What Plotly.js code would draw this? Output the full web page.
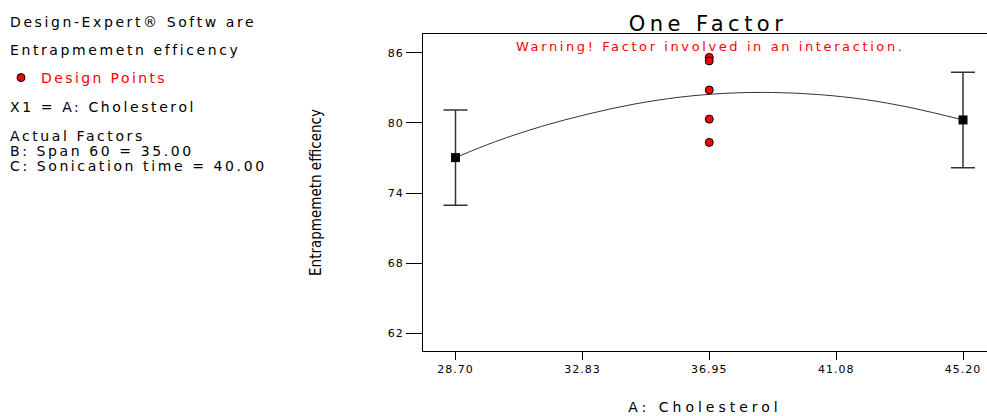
<!DOCTYPE html>
<html>
<head>
<meta charset="utf-8">
<script src="https://cdn.plot.ly/plotly-3.0.1.min.js"></script>
<style>
  html, body { margin: 0; padding: 0; background: #fff; }
  #chart { width: 987px; height: 416px; }
  .annotation-text { letter-spacing: 2.6px; }
  .legendtext { letter-spacing: 2.4px; }
  .gtitle { letter-spacing: 4.5px; }
  .xtitle { letter-spacing: 4px; }
  .xtick text, .ytick text { letter-spacing: 1px; }
</style>
</head>
<body>
<div id="chart"></div>
<script>
// ---- data ----
const xTickVals = [28.70, 32.83, 36.95, 41.08, 45.20];
const xTickText = ['28.70', '32.83', '36.95', '41.08', '45.20'];
const yTickVals = [62, 68, 74, 80, 86];
const yTickText = ['62', '68', '74', '80', '86'];

const factorLevels = [28.70, 45.20];          // A: Cholesterol levels with predicted means
const predictedMeans = [77.03, 80.25];        // predicted entrapment efficiency
const ciHalfWidth = [4.08, 4.08];             // LSD / CI half width

const designX = [36.95, 36.95, 36.95, 36.95, 36.95];
const designY = [85.6, 85.3, 82.81, 80.32, 78.33];

const curveX = [28.70, 30.0, 31.5, 33.0, 34.5, 36.0, 37.5, 39.0, 40.5, 42.0, 43.5, 45.20];
const curveY = [77.03, 78.4, 79.7, 80.75, 81.6, 82.2, 82.53, 82.6, 82.42, 82.0, 81.3, 80.25];

const infoLines = [
  'Design-Expert® Softw are',
  'Entrapmemetn efficency',
  'X1 = A: Cholesterol',
  'Actual Factors',
  'B: Span 60 = 35.00',
  'C: Sonication time = 40.00'
];
const infoLineY = [22, 50, 107, 136, 151, 166];

// ---- layout helpers (pixel -> paper) ----
const W = 987, H = 416, ML = 423, MR = 0, MT = 34, MB = 65;
const PW = W - ML - MR, PH = H - MT - MB;
const px = x => (x - ML) / PW;
const py = y => (H - MB - y) / PH;

const FONT = 'DejaVu Sans, Arial, sans-serif';

const traces = [
  {
    x: curveX, y: curveY, type: 'scatter', mode: 'lines',
    line: { color: '#333', width: 1, shape: 'spline' },
    showlegend: false, hoverinfo: 'skip'
  },
  {
    x: factorLevels, y: predictedMeans, type: 'scatter', mode: 'markers',
    marker: { symbol: 'square', size: 9, color: '#000' },
    error_y: { type: 'data', array: ciHalfWidth, visible: true, color: '#333', thickness: 1.5, width: 12 },
    showlegend: false
  },
  {
    x: designX, y: designY, type: 'scatter', mode: 'markers',
    name: 'Design Points',
    marker: { symbol: 'circle', size: 8, color: '#ff0000', line: { color: '#000', width: 1 } },
    showlegend: true
  }
];

const annotations = infoLines.map((t, i) => ({
  text: t, xref: 'paper', yref: 'paper',
  x: px(8), y: py(infoLineY[i]), xanchor: 'left', yanchor: 'middle', align: 'left',
  showarrow: false, font: { family: FONT, size: 14, color: '#000' }
}));
annotations.push({
  text: 'Warning! Factor involved in an interaction.',
  xref: 'paper', yref: 'paper', x: px(710), y: py(46), xanchor: 'center', yanchor: 'middle',
  showarrow: false, font: { family: FONT, size: 13, color: '#ff0000' }
});

const layout = {
  width: W, height: H,
  margin: { l: ML, r: MR, t: MT, b: MB },
  paper_bgcolor: '#fff', plot_bgcolor: '#fff',
  title: {
    text: 'One Factor', x: 708 / W, xanchor: 'center', xref: 'container',
    y: 1 - 24 / H, yanchor: 'middle', yref: 'container',
    font: { family: FONT, size: 21, color: '#000' }
  },
  xaxis: {
    range: [27.643, 45.98], tickmode: 'array', tickvals: xTickVals, ticktext: xTickText,
    ticks: 'outside', ticklen: 8, tickcolor: '#000', tickwidth: 1,
    showline: true, linecolor: '#000', linewidth: 1, mirror: true,
    showgrid: false, zeroline: false,
    tickfont: { family: FONT, size: 11, color: '#000' },
    title: { text: 'A: Cholesterol', standoff: 26, font: { family: FONT, size: 14, color: '#000' } }
  },
  yaxis: {
    range: [60.49, 87.6], tickmode: 'array', tickvals: yTickVals, ticktext: yTickText,
    ticks: 'outside', ticklen: 16, tickcolor: '#000', tickwidth: 1,
    showline: true, linecolor: '#000', linewidth: 1, mirror: false,
    showgrid: false, zeroline: false,
    tickfont: { family: FONT, size: 11, color: '#000' },
    title: { text: 'Entrapmemetn efficency', standoff: 62,
             font: { family: 'Liberation Sans Narrow, Arial Narrow, DejaVu Sans Condensed, sans-serif', size: 15, color: '#000' } }
  },
  showlegend: true,
  legend: {
    x: px(1), xanchor: 'left', y: py(78), yanchor: 'middle',
    bgcolor: 'rgba(0,0,0,0)', borderwidth: 0,
    font: { family: FONT, size: 14, color: '#ff0000' }
  },
  annotations: annotations
};

Plotly.newPlot('chart', traces, layout, { displayModeBar: false, staticPlot: true });
</script>
</body>
</html>
